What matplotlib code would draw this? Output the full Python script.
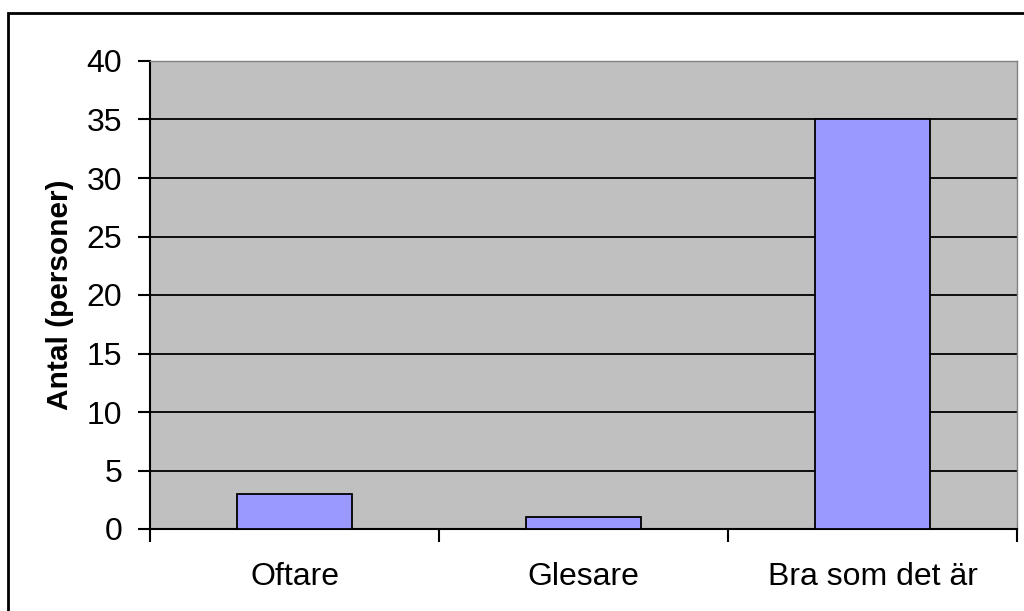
import matplotlib.pyplot as plt
from matplotlib.patches import Rectangle

# svar och antal personer
categories = ["Oftare", "Glesare", "Bra som det är"]
counts = [3, 1, 35]
yticks = [0, 5, 10, 15, 20, 25, 30, 35, 40]

plt.rcParams['font.family'] = ['Liberation Sans', 'DejaVu Sans']

fig = plt.figure(figsize=(10.24, 6.11), dpi=100)
ax = fig.add_axes([150 / 1024, 1 - 529 / 611, 867 / 1024, 468 / 611])

# grå bakgrund och svarta rutlinjer
ax.set_facecolor("#C0C0C0")
ax.set_axisbelow(True)
ax.yaxis.grid(True, color="black", linewidth=1.3)

x = range(len(categories))
ax.bar(x, counts, width=0.4, color="#9999FF", edgecolor="black", linewidth=1.3, zorder=3)

ax.set_xlim(-0.5, 2.5)
ax.set_ylim(0, 40)
ax.set_yticks(yticks)
ax.set_yticklabels([str(v) for v in yticks], fontsize=23)

# kategorietiketter mellan tickarna
ax.set_xticks([-0.5, 0.5, 1.5, 2.5])
ax.set_xticklabels([])
ax.set_xticks(list(x), minor=True)
ax.set_xticklabels(categories, minor=True, fontsize=23)
ax.tick_params(axis="x", which="minor", length=0, pad=24)
ax.tick_params(axis="x", which="major", length=9, width=1.5, direction="out")
ax.tick_params(axis="y", length=9, width=1.5, direction="out", pad=11)

ax.set_ylabel("Antal (personer)", fontsize=21.5, fontweight="bold", labelpad=9)

for side in ["left", "bottom"]:
    ax.spines[side].set_linewidth(1.5)
for side in ["top", "right"]:
    ax.spines[side].set_color("#808080")
    ax.spines[side].set_linewidth(1.0)

# ram runt hela diagrammet
fig.patches.append(Rectangle((8 / 1024, -0.5), 2.0, 0.5 + 1 - 13 / 611,
                             transform=fig.transFigure, fill=False,
                             edgecolor="black", linewidth=2))

fig.savefig("out.png", dpi=100)
